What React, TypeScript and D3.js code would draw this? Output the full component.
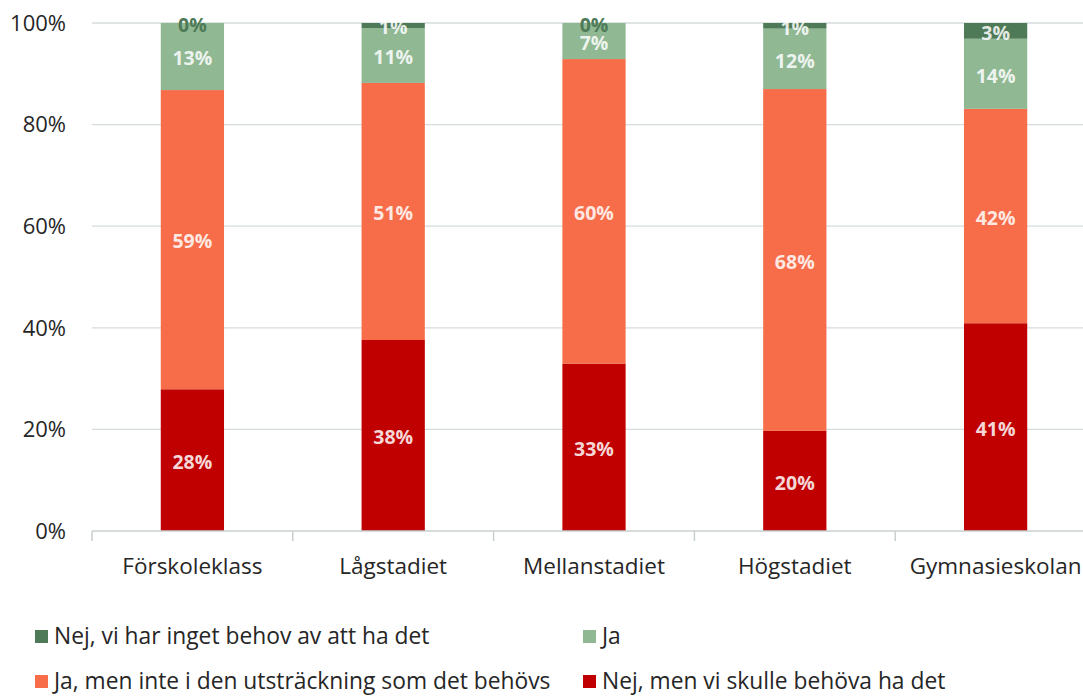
import React from "react";
import * as d3 from "d3";

const categories = ["Förskoleklass", "Lågstadiet", "Mellanstadiet", "Högstadiet", "Gymnasieskolan"];
const seriesNames = [
  "Nej, men vi skulle behöva ha det",
  "Ja, men inte i den utsträckning som det behövs",
  "Ja",
  "Nej, vi har inget behov av att ha det",
];
const nejBehova = [27.9, 37.6, 32.9, 19.7, 40.9];
const jaMenInte = [58.9, 50.6, 60.0, 67.3, 42.2];
const ja = [13.2, 10.8, 7.1, 11.9, 13.8];
const nejInget = [0.0, 1.0, 0.0, 1.1, 3.1];
const labelsNejBehova = ["28%", "38%", "33%", "20%", "41%"];
const labelsJaMenInte = ["59%", "51%", "60%", "68%", "42%"];
const labelsJa = ["13%", "11%", "7%", "12%", "14%"];
const labelsNejInget = ["0%", "1%", "0%", "1%", "3%"];
const yTicks = [0, 20, 40, 60, 80, 100];
const colors = ["#c00000", "#f76d4a", "#8fb893", "#4e7a57"];
const legendOrder = [3, 2, 1, 0];

const FONT = "'Open Sans', 'Noto Sans', sans-serif";

export default function App() {
  const W = 1083, H = 697;
  const left = 92, right = 1096, top = 23, bottom = 531;
  const x = d3.scaleBand<string>().domain(categories).range([left, right]).paddingInner(0.685).paddingOuter(0.3425);
  const y = d3.scaleLinear().domain([0, 100]).range([bottom, top]);
  const allValues = [nejBehova, jaMenInte, ja, nejInget];
  const allLabels = [labelsNejBehova, labelsJaMenInte, labelsJa, labelsNejInget];
  const table = categories.map((c, i) => {
    const row: any = { cat: c };
    allValues.forEach((v, k) => (row["s" + k] = v[i]));
    return row;
  });
  const stack = d3.stack<any>().keys(["s0", "s1", "s2", "s3"])(table);
  const band = x.step();
  const ticksX = d3.range(categories.length + 1).map((i) => left + i * band);

  return (
    <svg width={W} height={H} style={{ position: "absolute", left: 0, top: 0, background: "#fff" }} fontFamily={FONT}>
      {yTicks.map((t) => (
        <g key={t}>
          {t > 0 && <line x1={left} x2={W} y1={y(t)} y2={y(t)} stroke="#d5dcdb" strokeWidth={1.3} />}
          <text x={66} y={y(t)} dy="0.35em" textAnchor="end" fontSize={22} fill="#262626">{t}%</text>
        </g>
      ))}
      {stack.map((s, k) => (
        <g key={k}>
          {s.map((d, i) => (
            <rect key={i} x={x(categories[i])} width={x.bandwidth()} y={y(d[1])} height={Math.max(0, y(d[0]) - y(d[1]))} fill={colors[k]} />
          ))}
        </g>
      ))}
      <line x1={left} x2={W} y1={bottom} y2={bottom} stroke="#c9d1d0" strokeWidth={1.5} />
      {ticksX.map((tx, i) => (
        <line key={i} x1={tx} x2={tx} y1={bottom} y2={bottom + 10} stroke="#c9d1d0" strokeWidth={1.5} />
      ))}
      {stack.map((s, k) => (
        <g key={"l" + k}>
          {s.map((d, i) => {
            const zero = allValues[k][i] === 0;
            return (
              <text key={i} x={(x(categories[i]) as number) + x.bandwidth() / 2} y={y((d[0] + d[1]) / 2) + 2} dy="0.35em" textAnchor="middle" fontSize={19.5} fontWeight={700}
                fill={zero ? "#4e7a57" : "#ffffff"} fillOpacity={zero ? 1 : 0.85}>
                {allLabels[k][i]}
              </text>
            );
          })}
        </g>
      ))}
      {categories.map((c) => (
        <text key={c} x={(x(c) as number) + x.bandwidth() / 2} y={566} dy="0.35em" textAnchor="middle" fontSize={22.5} fill="#262626">{c}</text>
      ))}
      {legendOrder.map((k, j) => {
        const lx = j % 2 === 0 ? 35 : 583;
        const ly = j < 2 ? 636 : 681;
        return (
          <g key={k}>
            <rect x={lx} y={ly - 6} width={13} height={13} fill={colors[k]} />
            <text x={lx + 19} y={ly} dy="0.35em" fontSize={22.8} fill="#262626">{seriesNames[k]}</text>
          </g>
        );
      })}
    </svg>
  );
}
